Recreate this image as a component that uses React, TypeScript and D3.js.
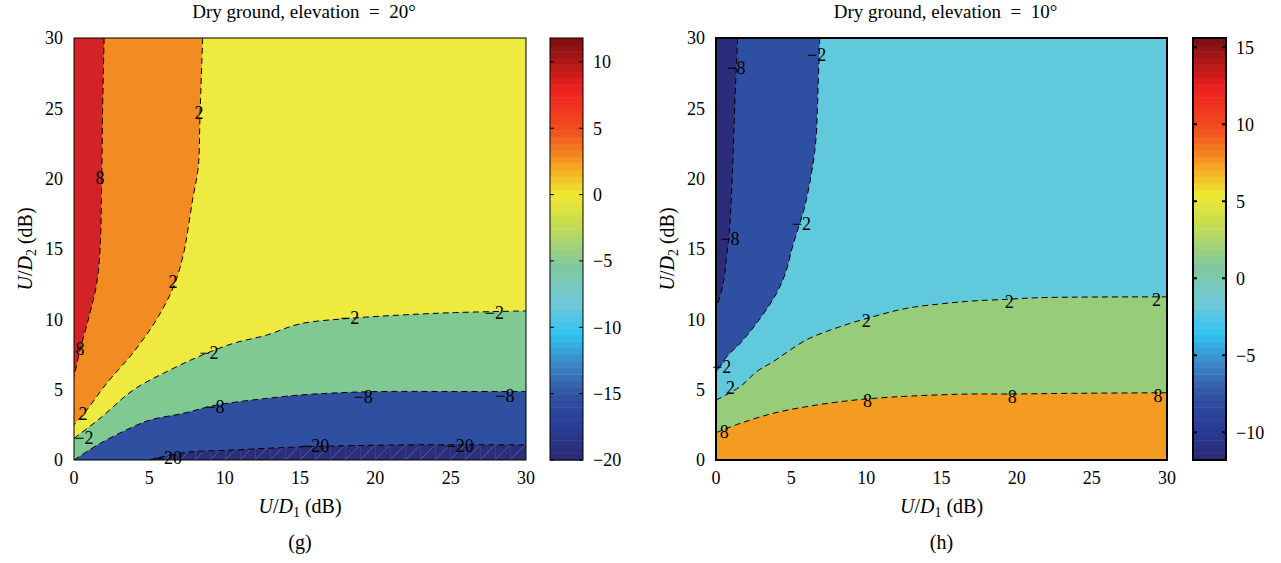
import React from 'react';
import * as d3 from 'd3';

type P = [number, number];

const AXIS_TICKS = [0, 5, 10, 15, 20, 25, 30];

// ---------- panel (g) ----------
const G_TITLE = 'Dry ground, elevation\u2002=\u200220°';
const G_CBAR_RANGE: [number, number] = [-20, 11.8];
const G_CBAR_TICKS = [10, 5, 0, -5, -10, -15, -20];
const G_C8: P[] = [[2.0, 30], [1.9, 25], [1.84, 20], [1.73, 15], [1.5, 12.5], [1.0, 10.2], [0.4, 7.8], [0, 5.9]];
const G_C2: P[] = [[8.54, 30], [8.36, 24.4], [8.25, 20.85], [7.87, 18.5], [7.52, 16.1], [7.32, 14.9], [6.7, 12.56], [5.6, 10.2], [4.05, 7.8], [2.17, 5.45], [0.84, 3.55], [0, 2.5]];
const G_CM2: P[] = [[0, 1.54], [1.73, 2.96], [3.94, 4.98], [6.15, 6.28], [8.36, 7.39], [10.57, 8.29], [12.79, 8.88], [15, 9.68], [18.3, 10.07], [21.6, 10.3], [25, 10.47], [30, 10.6]];
const G_CM8: P[] = [[0, 0], [1.73, 1.18], [3.94, 2.37], [5.04, 2.84], [7.25, 3.32], [9.47, 3.91], [12.79, 4.38], [15, 4.62], [19.4, 4.85], [25, 4.87], [30, 4.87]];
const G_CM20: P[] = [[5, 0], [7.25, 0.52], [10.57, 0.71], [15, 0.93], [21.6, 1.07], [30, 1.07]];
const G_LABELS: { x: number; y: number; t: string }[] = [
  { x: 8.3, y: 24.66, t: '2' }, { x: 1.73, y: 20.04, t: '8' }, { x: 6.57, y: 12.65, t: '2' },
  { x: 0.4, y: 7.89, t: '8' }, { x: 8.96, y: 7.6, t: '−2' }, { x: 9.36, y: 3.77, t: '−8' },
  { x: 6.24, y: 0.14, t: '−20' }, { x: 0.6, y: 3.27, t: '2' }, { x: 0.66, y: 1.56, t: '−2' },
  { x: 18.3, y: 10.1, t: '−2' }, { x: 27.9, y: 10.45, t: '−2' }, { x: 19.2, y: 4.48, t: '−8' },
  { x: 28.6, y: 4.55, t: '−8' }, { x: 16, y: 1.0, t: '−20' }, { x: 25.6, y: 1.0, t: '−20' },
];

// ---------- panel (h) ----------
const H_TITLE = 'Dry ground, elevation\u2002=\u200210°';
const H_CBAR_RANGE: [number, number] = [-11.8, 15.6];
const H_CBAR_TICKS = [15, 10, 5, 0, -5, -10];
const H_CM8: P[] = [[1.44, 30], [1.26, 25.6], [1.11, 20.85], [0.88, 16.1], [0.75, 14.93], [0.48, 12.56], [0, 10.7]];
const H_CM2: P[] = [[6.9, 30], [6.8, 26.8], [6.64, 22.7], [6.35, 20.4], [5.9, 18], [5.36, 16.1], [5.03, 14.93], [4.69, 13.5], [4.03, 11.85], [2.7, 9.72], [1.6, 8.29], [0.71, 7.34], [0, 6.16]];
const H_C2: P[] = [[0, 4.26], [1.6, 5.21], [2.7, 6.28], [3.8, 6.99], [6, 8.53], [8.23, 9.47], [10.45, 10.19], [12.66, 10.78], [14.87, 11.09], [17, 11.3], [19.3, 11.42], [21.5, 11.54], [30, 11.6]];
const H_C8: P[] = [[0, 1.94], [1.6, 2.6], [3.8, 3.32], [6, 3.79], [8.23, 4.14], [10.45, 4.38], [13, 4.55], [16.87, 4.69], [19.3, 4.69], [23.7, 4.74], [30, 4.78]];
const H_LABELS: { x: number; y: number; t: string }[] = [
  { x: 1.33, y: 27.9, t: '−8' }, { x: 6.69, y: 28.8, t: '−2' }, { x: 0.93, y: 15.76, t: '−8' },
  { x: 5.69, y: 16.8, t: '−2' }, { x: 0.38, y: 6.63, t: '−2' }, { x: 0.97, y: 5.14, t: '2' },
  { x: 0.55, y: 2.01, t: '8' }, { x: 10.0, y: 9.88, t: '2' }, { x: 10.07, y: 4.19, t: '8' },
  { x: 19.5, y: 11.25, t: '2' }, { x: 19.7, y: 4.5, t: '8' }, { x: 29.3, y: 11.37, t: '2' },
  { x: 29.4, y: 4.57, t: '8' },
];

// colormap stops (fraction from bottom -> color)
const CMAP_T = [0, 0.08, 0.15, 0.23, 0.30, 0.37, 0.46, 0.56, 0.63, 0.70, 0.78, 0.88, 1.0];
const CMAP_C = ['#2b2a72', '#283c96', '#3050a0', '#3d88c8', '#30c4f0', '#70c8d8', '#80c8a0', '#c8dc50', '#f0e830', '#f5a020', '#f05020', '#ee2020', '#781010'];
const cmap = d3.scaleLinear<string>().domain(CMAP_T).range(CMAP_C).interpolate(d3.interpolateRgb);

const FONT = "'Liberation Serif', 'Times New Roman', serif";

type Region = { pts: P[]; corners: P[]; fill: string };

function AxisLabel(props: { sub: string }) {
  return (
    <>
      <tspan fontStyle="italic">U</tspan><tspan>/</tspan><tspan fontStyle="italic">D</tspan>
      <tspan fontSize={14} dy={4}>{props.sub}</tspan><tspan dy={-4}>{'\u00a0(dB)'}</tspan>
    </>
  );
}

function Panel(props: {
  x0: number; x1: number; y0: number; y1: number;
  title: string; regions: Region[]; base: string; lines: P[][];
  labels: { x: number; y: number; t: string }[]; id: string;
  cbX: number; cbRange: [number, number]; cbTicks: number[]; tag: string; frameW: number;
}) {
  const { x0, x1, y0, y1, id } = props;
  const xs = d3.scaleLinear().domain([0, 30]).range([x0, x1]);
  const ys = d3.scaleLinear().domain([0, 30]).range([y1, y0]);
  const line = d3.line<P>().x(d => xs(d[0])).y(d => ys(d[1])).curve(d3.curveCatmullRom.alpha(0.5));
  const poly = (r: Region) => line(r.pts) + r.corners.map(c => `L${xs(c[0])},${ys(c[1])}`).join('') + 'Z';
  const cs = d3.scaleLinear().domain(props.cbRange).range([y1, y0]);
  const cbW = 33;
  const N = 64;
  const bands = d3.range(N).map(i => {
    const a = props.cbRange[0] + (props.cbRange[1] - props.cbRange[0]) * i / N;
    const b = props.cbRange[0] + (props.cbRange[1] - props.cbRange[0]) * (i + 1) / N;
    return { a, b, c: cmap((i + 0.5) / N) };
  });
  const cx = (x0 + x1) / 2;
  return (
    <g>
      <defs>
        <clipPath id={`clip-${id}`}><rect x={x0} y={y0} width={x1 - x0} height={y1 - y0} /></clipPath>
      </defs>
      <g clipPath={`url(#clip-${id})`}>
        <rect x={x0} y={y0} width={x1 - x0} height={y1 - y0} fill={props.base} />
        {props.regions.map((r, i) => <path key={i} d={poly(r)} fill={r.fill} stroke="none" />)}
        {props.lines.map((l, i) => <path key={i} d={line(l) || ''} fill="none" stroke="#000" strokeWidth={1} strokeDasharray="6,4" />)}
      </g>
      {props.labels.map((l, i) => (
        <text key={i} x={xs(l.x)} y={ys(l.y)} dy="0.35em" textAnchor="middle" fontFamily={FONT} fontSize={18} fill="#000">{l.t}</text>
      ))}
      <rect x={x0} y={y0} width={x1 - x0} height={y1 - y0} fill="none" stroke="#000" strokeWidth={props.frameW} />
      {AXIS_TICKS.map(t => (
        <text key={'x' + t} x={xs(t)} y={y1 + 24} textAnchor="middle" fontFamily={FONT} fontSize={18}>{t}</text>
      ))}
      {AXIS_TICKS.map(t => (
        <text key={'y' + t} x={x0 - 11} y={ys(t)} dy="0.35em" textAnchor="end" fontFamily={FONT} fontSize={18}>{t}</text>
      ))}
      <text x={cx + 4} y={18} textAnchor="middle" fontFamily={FONT} fontSize={19}>{props.title}</text>
      <text x={cx} y={513} textAnchor="middle" fontFamily={FONT} fontSize={20}>
        <AxisLabel sub="1" />
      </text>
      <text transform={`translate(${x0 - 42},${(y0 + y1) / 2}) rotate(-90)`} textAnchor="middle" fontFamily={FONT} fontSize={20}>
        <AxisLabel sub="2" />
      </text>
      <text x={cx} y={549} textAnchor="middle" fontFamily={FONT} fontSize={20}>{props.tag}</text>
      {/* colorbar */}
      {bands.map((b, i) => (
        <rect key={i} x={props.cbX} y={cs(b.b)} width={cbW} height={cs(b.a) - cs(b.b) + 0.5} fill={b.c} />
      ))}
      <rect x={props.cbX} y={y0} width={cbW} height={y1 - y0} fill="none" stroke="#000" strokeWidth={props.frameW} />
      {props.cbTicks.map(t => (
        <g key={t}>
          <line x1={props.cbX} x2={props.cbX + 4} y1={cs(t)} y2={cs(t)} stroke="#000" strokeWidth={props.frameW} />
          <line x1={props.cbX + cbW - 4} x2={props.cbX + cbW} y1={cs(t)} y2={cs(t)} stroke="#000" strokeWidth={props.frameW} />
          <text x={props.cbX + cbW + 10} y={cs(t)} dy="0.35em" fontFamily={FONT} fontSize={18}>{t < 0 ? '−' + Math.abs(t) : t}</text>
        </g>
      ))}
    </g>
  );
}

export default function App() {
  return (
    <div style={{ position: 'absolute', left: 0, top: 0 }}>
      <svg width={1281} height={563} style={{ display: 'block', background: '#fff' }}>
        <defs>
          <pattern id="hatch" width={15} height={15} patternUnits="userSpaceOnUse" x={0} y={460}>
            <rect width={15} height={15} fill="#2b2e78" />
            <path d="M0,15 L15,0" stroke="rgba(200,200,230,0.4)" strokeWidth={0.7} />
            <path d="M0,0 L0,15" stroke="rgba(200,200,230,0.3)" strokeWidth={0.7} />
          </pattern>
        </defs>
        <Panel id="g" x0={74} x1={526} y0={38} y1={460} title={G_TITLE} base="#eeea40" tag="(g)"
          regions={[
            { pts: G_C2, corners: [[0, 30]], fill: '#f28b22' },
            { pts: G_C8, corners: [[0, 30]], fill: '#d42229' },
            { pts: G_CM2, corners: [[30, 0], [0, 0]], fill: '#80c993' },
            { pts: G_CM8, corners: [[30, 0]], fill: '#2f4fa0' },
            { pts: G_CM20, corners: [[30, 0]], fill: 'url(#hatch)' },
          ]}
          lines={[G_C8, G_C2, G_CM2, G_CM8, G_CM20]} labels={G_LABELS}
          cbX={550} cbRange={G_CBAR_RANGE} cbTicks={G_CBAR_TICKS} frameW={1} />
        <Panel id="h" x0={716} x1={1167} y0={38} y1={460} title={H_TITLE} base="#61c9dc" tag="(h)"
          regions={[
            { pts: H_CM2, corners: [[0, 30]], fill: '#2f4fa2' },
            { pts: H_CM8, corners: [[0, 30]], fill: '#2b2d7a' },
            { pts: H_C2, corners: [[30, 0], [0, 0]], fill: '#96cc7a' },
            { pts: H_C8, corners: [[30, 0], [0, 0]], fill: '#f39c21' },
          ]}
          lines={[H_CM8, H_CM2, H_C2, H_C8]} labels={H_LABELS}
          cbX={1193} cbRange={H_CBAR_RANGE} cbTicks={H_CBAR_TICKS} frameW={2} />
      </svg>
    </div>
  );
}
